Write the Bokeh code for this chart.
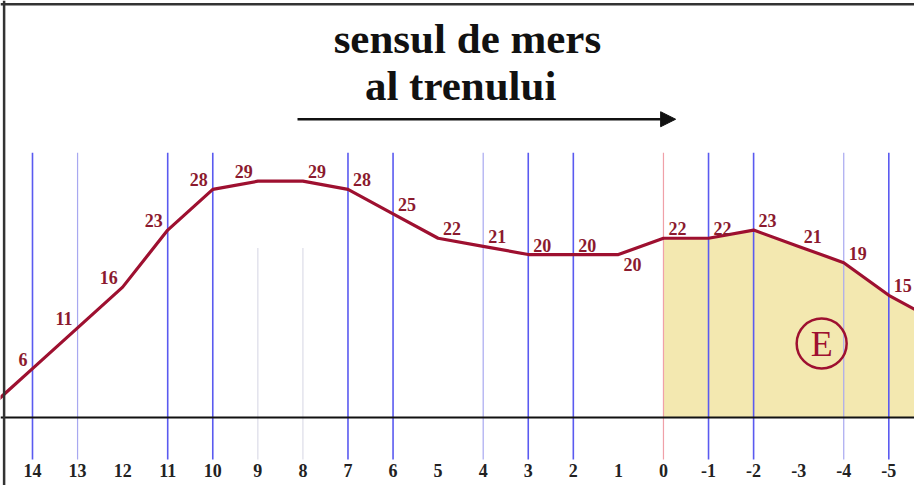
from bokeh.plotting import figure
from bokeh.models import Range1d, Span, Arrow, NormalHead, ColumnDataSource
from bokeh.core.properties import value
from bokeh.embed import file_html
from bokeh.resources import INLINE

# ---- data (km markers and gradient values) ----
km = [14, 13, 12, 11, 10, 9, 8, 7, 6, 5, 4, 3, 2, 1, 0, -1, -2, -3, -4, -5]
grade = [6, 11, 16, 23, 28, 29, 29, 28, 25, 22, 21, 20, 20, 20, 22, 22, 23, 21, 19, 15]
km_edge_left, grade_edge_left = 15, 1
km_edge_right, grade_edge_right = -6, 12
tick_labels = [str(k) for k in km]
zone_start = 0
title_lines = ["sensul de mers", "al trenului"]
zone_label = "E"

strong_lines = [14, 11, 10, 7, 6, 3, 2, -1, -2, -5]
light_lines = [13, 4, -4]
faint_lines = [9, 8]
zero_line = [0]

W, H = 914, 485
p = figure(width=W, height=H, output_backend="svg", toolbar_location=None,
           x_range=Range1d(14.71, -5.57), y_range=Range1d(-8.34, 51.17),
           min_border=0, min_border_left=0, min_border_right=0,
           min_border_top=0, min_border_bottom=0)
p.xaxis.visible = False
p.yaxis.visible = False
p.grid.visible = False
p.outline_line_color = None
p.background_fill_color = "white"
p.border_fill_color = "white"

all_km = [km_edge_left] + km + [km_edge_right]
all_grade = [grade_edge_left] + grade + [grade_edge_right]

# shaded zone
zx = [k for k in all_km if k <= zone_start]
zy = [g for k, g in zip(all_km, all_grade) if k <= zone_start]
p.varea(x=zx, y1=[0] * len(zx), y2=zy, fill_color="#f3e8b0", fill_alpha=1.0)

# vertical lines
top_v, bot_v = 32.5, -5.15
p.segment(x0=strong_lines, x1=strong_lines, y0=[bot_v] * len(strong_lines),
          y1=[top_v] * len(strong_lines), line_color="#5a5af0", line_width=1.6)
p.segment(x0=light_lines, x1=light_lines, y0=[bot_v] * len(light_lines),
          y1=[top_v] * len(light_lines), line_color="#a8a8f0", line_width=1.2)
p.segment(x0=faint_lines, x1=faint_lines, y0=[bot_v] * len(faint_lines),
          y1=[20.8] * len(faint_lines), line_color="#dcdce8", line_width=1.2)
p.segment(x0=zero_line, x1=zero_line, y0=[bot_v], y1=[top_v],
          line_color="#f0a0a8", line_width=1.2)

# baseline
p.add_layout(Span(location=0, dimension="width", line_color="#111111", line_width=2))
# frame (left and top)
p.add_layout(Span(location=14.63, dimension="height", line_color="#333333", line_width=2.5))
p.add_layout(Span(location=50.7, dimension="width", line_color="#333333", line_width=2.5))

# profile line
p.line(all_km, all_grade, line_color="#9e1030", line_width=3.2, line_join="round")

# value labels
lab = dict(x=[], y=[], text=[], align=[], xo=[], yo=[], base=[])
for k, g in zip(km, grade):
    lab["x"].append(k)
    lab["y"].append(g)
    lab["text"].append(str(g))
    if k >= 9:
        lab["align"].append("right"); lab["xo"].append(-5)
    else:
        lab["align"].append("left"); lab["xo"].append(5)
    if k == 1:
        lab["base"].append("top"); lab["yo"].append(3)
    else:
        lab["base"].append("bottom"); lab["yo"].append(-3)
src = ColumnDataSource(lab)
p.text(x="x", y="y", text="text", source=src, text_align="align",
       text_baseline="base", x_offset="xo", y_offset="yo",
       text_font=value("Liberation Serif"), text_font_style="bold",
       text_font_size="18px", text_color="#8b1a2e")

# tick labels
p.text(x=km, y=[-6.5] * len(km), text=tick_labels, text_align="center",
       text_baseline="middle", text_font=value("Liberation Serif"),
       text_font_style="bold", text_font_size="18px", text_color="#222222")

# title
p.text(x=[4.35, 4.5], y=[46.5, 40.7], text=title_lines, text_align="center",
       text_baseline="alphabetic", text_font=value("Liberation Serif"),
       text_font_style="bold", text_font_size="43px", text_color="#111111")

# direction arrow
p.add_layout(Arrow(x_start=8.12, y_start=36.6, x_end=-0.27, y_end=36.6,
                   line_color="#111111", line_width=2.5,
                   end=NormalHead(size=15, fill_color="#111111", line_color="#111111")))

# zone marker
p.scatter(x=[-3.51], y=[9.08], marker="circle", size=50, fill_color=None,
          line_color="#9e1030", line_width=2.5)
p.text(x=[-3.51], y=[9.08], text=[zone_label], text_align="center", text_baseline="middle",
       text_font=value("Liberation Serif"), text_font_size="36px", text_color="#9e1030")

open("out.html", "w").write(file_html(p, INLINE))
